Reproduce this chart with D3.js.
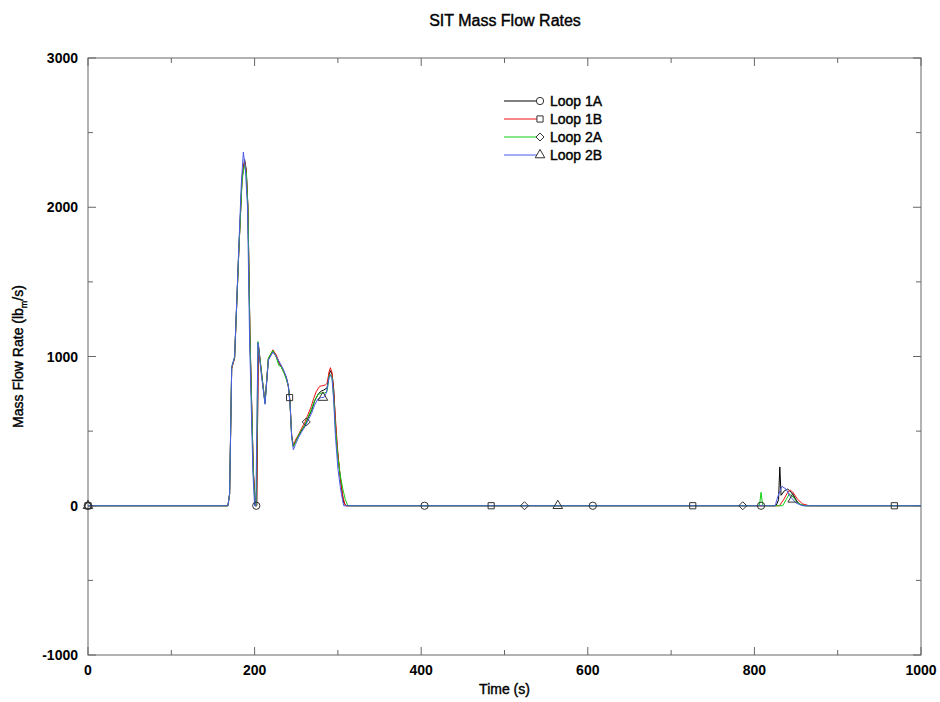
<!DOCTYPE html>
<html>
<head>
<meta charset="utf-8">
<script src="https://cdn.jsdelivr.net/npm/d3@7"></script>
<style>
  html, body { margin: 0; padding: 0; background: #fff; }
  svg text { font-family: "Liberation Sans", Arial, sans-serif; fill: #000; }
</style>
</head>
<body>
<div id="chart"></div>
<script>
// Safety injection tank mass flow rates for the four loops (time s, lbm/s)
const loop1A = [
  [0,0],[168,0],[170,80],[172.5,920],[176,990],[181,1700],[185,2200],[188,2320],[190,2250],
  [192,2000],[194.5,1120],[198.5,230],[201,0],[202.5,0],[204.5,1080],[208.5,880],[212.5,690],
  [216.5,980],[222,1035],[226,1000],[230,950],[234,910],[238,860],[240.5,800],[242.5,690],
  [244.5,470],[246.5,400],[249,430],[252.5,465],[256,500],[260.5,540],[264,585],[268.5,640],
  [272,700],[276.5,750],[280,768],[283,775],[287,790],[289.5,880],[291,905],[293,880],[295,780],
  [297,560],[299,400],[302,230],[305,90],[307,20],[310,0],
  [826,0],[829,40],[830.5,260],[832,70],[836,100],[840,112],[845,85],[850,35],[855,8],[862,0],[1000,0]
];
const loop1B = [
  [0,0],[168,0],[170,80],[172.5,920],[176,990],[181,1700],[185,2200],[188,2310],[190,2240],
  [192,2000],[194.5,1120],[198.5,230],[201,0],[202.5,0],[204.5,1080],[208.5,880],[212.5,690],
  [216.5,985],[222,1045],[226,1010],[230,955],[234,910],[238,860],[240.5,800],[242.5,700],
  [244.5,470],[246.5,400],[249,440],[252.5,475],[256,515],[260.5,560],[264,610],[268,665],
  [271,720],[274,765],[278,800],[282,805],[285,810],[287,820],[289.5,900],[291,925],[293,890],
  [295,760],[297,590],[300,350],[303,180],[306,60],[309,0],
  [830,0],[835,40],[840,90],[843,105],[846,92],[852,42],[858,12],[866,0],[1000,0]
];
const loop2A = [
  [0,0],[168,0],[170,80],[172.5,930],[176,995],[181,1700],[185,2180],[188,2290],[190,2230],
  [192,1990],[194.5,1100],[198.5,210],[200.5,0],[202,0],[204,1100],[208.5,885],[212.5,685],
  [216.5,990],[222,1040],[226,995],[229,940],[232,930],[236,880],[240.5,805],[242.5,690],
  [244.5,465],[246.5,395],[249,425],[252.5,470],[256,505],[260.5,540],[264,590],[268.5,650],
  [272,705],[276,745],[280,755],[284,755],[287,765],[289.5,870],[291,880],[293,860],[295,720],
  [297,530],[300,320],[303,200],[306,110],[309,40],[312,0],
  [806,0],[808,90],[810,0],[834,0],[838,40],[842,80],[847,55],[853,15],[860,0],[1000,0]
];
const loop2B = [
  [0,0],[168,0],[170,80],[172.5,930],[176,1000],[181,1730],[184,2150],[186.5,2370],[189,2250],
  [191.5,2000],[194,1110],[198,220],[200,0],[201.5,0],[204,1095],[208,885],[212.5,680],
  [216.5,975],[222,1030],[226,1000],[230,960],[234,920],[238,865],[240.5,805],[242.5,690],
  [244.5,460],[246.5,375],[249,410],[252.5,455],[256,490],[260.5,530],[264,570],[268.5,620],
  [272,675],[276,715],[280,725],[283,725],[286,755],[289.5,860],[291,875],[293,850],[295,700],
  [297,470],[300,250],[303,120],[305.5,40],[307,0],
  [825,0],[828,60],[833,130],[838,112],[843,62],[850,18],[858,0],[1000,0]
];

const seriesNames = ["Loop 1A", "Loop 1B", "Loop 2A", "Loop 2B"];
const seriesData = [loop1A, loop1B, loop2A, loop2B];
const seriesColors = ["#000000", "#f01010", "#10d010", "#4a5ae8"];
// times at which each loop carries its marker symbol
const markerTimes = [
  [0, 202, 404, 606, 808],
  [0, 242, 484, 726, 968],
  [0, 262, 524, 786],
  [0, 282, 564, 846]
];

const xTicksMajor = [0, 200, 400, 600, 800, 1000];
const xTicksMinor = [100, 300, 500, 700, 900];
const yTicksMajor = [-1000, 0, 1000, 2000, 3000];
const yTicksMinor = [-500, 500, 1500, 2500];

// open marker shapes: circle, square, diamond (square turned 45 deg), triangle
const diamondSym = {
  draw(ctx, size) {
    const r = Math.sqrt(size) * 0.62;
    ctx.moveTo(0, -r); ctx.lineTo(r, 0); ctx.lineTo(0, r); ctx.lineTo(-r, 0); ctx.closePath();
  }
};
const seriesSymbols = [d3.symbolCircle, d3.symbolSquare, diamondSym, d3.symbolTriangle];
const symbolSizes = [42, 38, 42, 40];

const W = 940, H = 702;
const margin = { left: 88, right: 19, top: 58, bottom: 47 };

const svg = d3.select("#chart").append("svg")
  .attr("width", W).attr("height", H);

const x = d3.scaleLinear().domain([0, 1000]).range([margin.left, W - margin.right]);
const y = d3.scaleLinear().domain([-1000, 3000]).range([H - margin.bottom, margin.top]);

const frameColor = "#666";

// value at time t by linear interpolation of a series
function valueAt(data, t) {
  for (let i = 1; i < data.length; i++) {
    if (data[i][0] >= t) {
      const [t0, v0] = data[i - 1], [t1, v1] = data[i];
      return t1 === t0 ? v1 : v0 + (v1 - v0) * (t - t0) / (t1 - t0);
    }
  }
  return data[data.length - 1][1];
}

// plot frame
svg.append("rect")
  .attr("x", x(0)).attr("y", y(3000))
  .attr("width", x(1000) - x(0)).attr("height", y(-1000) - y(3000))
  .attr("fill", "none").attr("stroke", frameColor).attr("stroke-width", 1);

// inward ticks on all four sides
const ticks = svg.append("g").attr("stroke", frameColor).attr("stroke-width", 1);
[[xTicksMajor, 8], [xTicksMinor, 5]].forEach(([vals, len]) => {
  vals.forEach(v => {
    ticks.append("line").attr("x1", x(v)).attr("x2", x(v)).attr("y1", y(-1000)).attr("y2", y(-1000) - len);
    ticks.append("line").attr("x1", x(v)).attr("x2", x(v)).attr("y1", y(3000)).attr("y2", y(3000) + len);
  });
});
[[yTicksMajor, 8], [yTicksMinor, 5]].forEach(([vals, len]) => {
  vals.forEach(v => {
    ticks.append("line").attr("x1", x(0)).attr("x2", x(0) + len).attr("y1", y(v)).attr("y2", y(v));
    ticks.append("line").attr("x1", x(1000)).attr("x2", x(1000) - len).attr("y1", y(v)).attr("y2", y(v));
  });
});

// tick labels
svg.append("g").selectAll("text").data(xTicksMajor).join("text")
  .attr("x", d => x(d)).attr("y", y(-1000) + 20)
  .attr("text-anchor", "middle").attr("font-size", 14).attr("font-weight", "bold")
  .text(d => d);
svg.append("g").selectAll("text").data(yTicksMajor).join("text")
  .attr("x", x(0) - 10).attr("y", d => y(d) + 5)
  .attr("text-anchor", "end").attr("font-size", 14).attr("font-weight", "bold")
  .text(d => d);

// titles
const heavy = t => t.attr("stroke", "#000").attr("stroke-width", 0.4);
heavy(svg.append("text").attr("x", 505).attr("y", 26).attr("text-anchor", "middle")
  .attr("font-size", 16).text("SIT Mass Flow Rates"));
heavy(svg.append("text").attr("x", (x(0) + x(1000)) / 2).attr("y", 694).attr("text-anchor", "middle")
  .attr("font-size", 14).text("Time (s)"));
const yt = heavy(svg.append("text")
  .attr("transform", `translate(23,${(y(3000) + y(-1000)) / 2}) rotate(-90)`)
  .attr("text-anchor", "middle").attr("font-size", 14));
yt.append("tspan").text("Mass Flow Rate (lb");
yt.append("tspan").attr("font-size", 9).attr("dy", 4).text("m");
yt.append("tspan").attr("dy", -4).text("/s)");

// series lines
const line = d3.line().x(d => x(d[0])).y(d => y(d[1]));
const plot = svg.append("g");
seriesData.forEach((data, i) => {
  plot.append("path").datum(data)
    .attr("d", line)
    .attr("fill", "none").attr("stroke", seriesColors[i]).attr("stroke-width", 1)
    .attr("stroke-linejoin", "round");
});

// markers along each series
seriesData.forEach((data, i) => {
  const sym = d3.symbol().type(seriesSymbols[i]).size(symbolSizes[i]);
  plot.append("g").selectAll("path").data(markerTimes[i]).join("path")
    .attr("transform", t => `translate(${x(t)},${y(valueAt(data, t))})`)
    .attr("d", sym)
    .attr("fill", "none").attr("stroke", "#333").attr("stroke-width", 1);
});

// legend
const legend = svg.append("g");
seriesNames.forEach((name, i) => {
  const ly = 101 + i * 18;
  legend.append("line").attr("x1", 504).attr("x2", 537).attr("y1", ly).attr("y2", ly)
    .attr("stroke", seriesColors[i]).attr("stroke-width", 1);
  legend.append("path").attr("transform", `translate(540,${ly})`)
    .attr("d", d3.symbol().type(seriesSymbols[i]).size(symbolSizes[i])())
    .attr("fill", "#fff").attr("stroke", "#333").attr("stroke-width", 1);
  heavy(legend.append("text").attr("x", 550).attr("y", ly + 5)
    .attr("font-size", 14).text(name));
});
</script>
</body>
</html>
